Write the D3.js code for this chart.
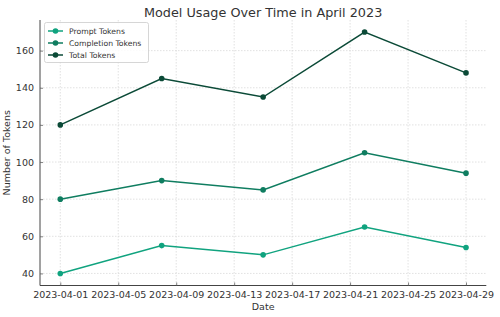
<!DOCTYPE html>
<html><head><meta charset="utf-8">
<script src="https://cdn.jsdelivr.net/npm/d3@7"></script>
<style>body{margin:0;background:#fff;} text{font-family:"DejaVu Sans",sans-serif;}</style>
</head><body><svg id="chart" width="500" height="317"></svg>
<script>
const dates = ["2023-04-01","2023-04-08","2023-04-15","2023-04-22","2023-04-29"];
const promptTokens = [40, 55, 50, 65, 54];
const completionTokens = [80, 90, 85, 105, 94];
const totalTokens = [120, 145, 135, 170, 148];
const seriesNames = ["Prompt Tokens","Completion Tokens","Total Tokens"];
const seriesColors = ["#10a37f","#0f7d60","#0b4a37"];
const xTickLabels = ["2023-04-01","2023-04-05","2023-04-09","2023-04-13","2023-04-17","2023-04-21","2023-04-25","2023-04-29"];
const yTicks = [40,60,80,100,120,140,160];

(function(){
const parse = d3.utcParse("%Y-%m-%d");
const svg = d3.select("#chart");
const mLeft=40, mRight=486.3, mTop=20, mBottom=285.5;
const t0 = parse(dates[0]), t1 = parse(dates[dates.length-1]);
const span = t1 - t0;
const x = d3.scaleUtc().domain([new Date(+t0 - span*0.05), new Date(+t1 + span*0.05)]).range([mLeft,mRight]);
const yMin = 40, yMax = 170, yr = yMax-yMin;
const y = d3.scaleLinear().domain([yMin - yr*0.05, yMax + yr*0.05]).range([mBottom, mTop]);

const xTickDates = xTickLabels.map(parse);
const g = svg.append("g");
g.selectAll(".vg").data(xTickDates).join("line")
  .attr("x1",d=>x(d)).attr("x2",d=>x(d)).attr("y1",mTop).attr("y2",mBottom)
  .attr("stroke","#d9d9d9").attr("stroke-width",0.8).attr("stroke-dasharray","1.5,1.5");
g.selectAll(".hg").data(yTicks).join("line")
  .attr("x1",mLeft).attr("x2",mRight).attr("y1",d=>y(d)).attr("y2",d=>y(d))
  .attr("stroke","#d9d9d9").attr("stroke-width",0.8).attr("stroke-dasharray","1.5,1.5");

const xAxis = d3.axisBottom(x).tickValues(xTickDates).tickFormat(d3.utcFormat("%Y-%m-%d")).tickSizeInner(-3).tickSizeOuter(0).tickPadding(6);
const yAxis = d3.axisLeft(y).tickValues(yTicks).tickSizeInner(-3).tickSizeOuter(0).tickPadding(6);
const gx = svg.append("g").attr("transform",`translate(0,${mBottom})`).call(xAxis);
const gy = svg.append("g").attr("transform",`translate(${mLeft},0)`).call(yAxis);
[gx,gy].forEach(a=>{
  a.select(".domain").attr("stroke","#444").attr("stroke-width",1);
  a.selectAll(".tick line").attr("stroke","#666").attr("stroke-width",0.8);
  a.selectAll(".tick text").attr("fill","#333").style("font-size","9.5px").style("font-family","DejaVu Sans");
});
gx.select(".domain").attr("d",`M${mLeft},0H${mRight}`);
gy.select(".domain").attr("d",`M0,${mBottom}V${mTop}`);

const seriesData = [promptTokens, completionTokens, totalTokens];
const line = d3.line().x((d,i)=>x(parse(dates[i]))).y(d=>y(d));
seriesData.forEach((vals,k)=>{
  svg.append("path").datum(vals).attr("d",line).attr("fill","none")
    .attr("stroke",seriesColors[k]).attr("stroke-width",1.5);
  svg.append("g").selectAll("circle").data(vals).join("circle")
    .attr("cx",(d,i)=>x(parse(dates[i]))).attr("cy",d=>y(d)).attr("r",2.8)
    .attr("fill",seriesColors[k]);
});

svg.append("text").attr("x",(mLeft+mRight)/2).attr("y",17).attr("text-anchor","middle")
  .style("font-size","12.8px").attr("fill","#333").text("Model Usage Over Time in April 2023");
svg.append("text").attr("x",(mLeft+mRight)/2).attr("y",310).attr("text-anchor","middle")
  .style("font-size","9.5px").attr("fill","#333").text("Date");
svg.append("text").attr("transform",`translate(10,${(mTop+mBottom)/2}) rotate(-90)`).attr("text-anchor","middle")
  .style("font-size","9.5px").attr("fill","#333").text("Number of Tokens");

const lg = svg.append("g");
lg.append("rect").attr("x",44.5).attr("y",22.5).attr("width",104).attr("height",40).attr("rx",2)
  .attr("fill","#fff").attr("fill-opacity",0.85).attr("stroke","#ccc").attr("stroke-width",0.8);
seriesNames.forEach((n,k)=>{
  const yy = 31 + k*12;
  lg.append("line").attr("x1",48).attr("x2",63).attr("y1",yy).attr("y2",yy).attr("stroke",seriesColors[k]).attr("stroke-width",1.5);
  lg.append("circle").attr("cx",55.5).attr("cy",yy).attr("r",2.8).attr("fill",seriesColors[k]);
  lg.append("text").attr("x",69).attr("y",yy+2.8).style("font-size","7.7px").attr("fill","#333").text(n);
});
})();
</script></body></html>
